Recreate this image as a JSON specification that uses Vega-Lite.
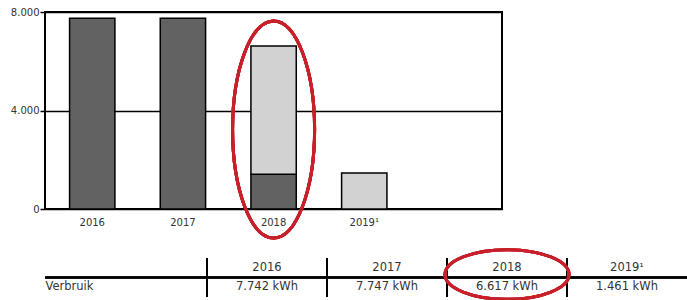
{
  "$schema": "https://vega.github.io/schema/vega-lite/v6.json",
  "padding": {"left": 9, "top": 6, "right": 0, "bottom": 0},
  "bounds": "flush",
  "spacing": 49,
  "background": "white",
  "config": {
    "font": "DejaVu Sans",
    "view": {"stroke": "black", "strokeWidth": 2},
    "axis": {"labelFont": "DejaVu Sans", "labelColor": "#333333", "titleFont": "DejaVu Sans"}
  },
  "vconcat": [
    {
      "width": 457,
      "height": 197,
      "data": {
        "values": [
          {"jaar": "2016", "deel": "a", "kWh": 7742},
          {"jaar": "2017", "deel": "a", "kWh": 7747},
          {"jaar": "2018", "deel": "a", "kWh": 1410},
          {"jaar": "2018", "deel": "b", "kWh": 5207},
          {"jaar": "2019¹", "deel": "b", "kWh": 1461}
        ]
      },
      "layer": [
        {
          "mark": {"type": "bar", "stroke": "black", "strokeWidth": 1.5},
          "encoding": {
            "x": {
              "field": "jaar", "type": "nominal", "sort": null,
              "scale": {"domain": ["2016", "2017", "2018", "2019¹"], "paddingInner": 0.5, "paddingOuter": 0.77, "align": 0.176, "round": false},
              "axis": {"title": null, "labelAngle": 0, "ticks": false, "tickSize": 0, "domain": false, "labelPadding": 8, "labelFontSize": 10, "grid": false}
            },
            "y": {
              "field": "kWh", "type": "quantitative", "aggregate": "sum", "stack": "zero",
              "scale": {"domain": [0, 8000], "nice": false},
              "axis": {"title": null, "values": [0, 4000, 8000], "labelExpr": "replace(format(datum.value, ','), ',', '.')", "labelFontSize": 10, "tickSize": 5, "tickColor": "black", "tickWidth": 1.5, "labelPadding": 1, "domain": false, "grid": true, "gridColor": "black", "gridWidth": 1.5, "gridOpacity": 1}
            },
            "color": {"field": "deel", "type": "nominal", "scale": {"domain": ["a", "b"], "range": ["#626262", "#d2d2d2"]}, "legend": null},
            "order": {"field": "deel", "sort": "ascending"}
          }
        },
        {
          "mark": {"type": "point", "shape": "M-0.378,0 C-0.378,-0.5523 -0.2088,-1 0,-1 C0.2088,-1 0.378,-0.5523 0.378,0 C0.378,0.5523 0.2088,1 0,1 C-0.2088,1 -0.378,0.5523 -0.378,0 Z", "size": 47089, "filled": false, "stroke": "#c8202a", "strokeWidth": 3, "opacity": 1, "clip": false},
          "encoding": {
            "x": {"datum": "2018", "type": "nominal"},
            "y": {"datum": 3230, "type": "quantitative"}
          }
        }
      ]
    },
    {
      "width": 642,
      "height": 39,
      "view": {"stroke": null},
      "data": {
        "values": [
          {"kolom": "2016", "kop": "2016", "verbruik": "7.742 kWh"},
          {"kolom": "2017", "kop": "2017", "verbruik": "7.747 kWh"},
          {"kolom": "2018", "kop": "2018", "verbruik": "6.617 kWh"},
          {"kolom": "2019¹", "kop": "2019¹", "verbruik": "1.461 kWh"}
        ]
      },
      "layer": [
        {
          "mark": {"type": "text", "fontSize": 11.5, "color": "#333333", "baseline": "middle"},
          "encoding": {
            "x": {
              "field": "kolom", "type": "nominal", "sort": null,
              "scale": {"domain": ["2016", "2017", "2018", "2019¹"], "paddingInner": 0, "paddingOuter": 0.675, "align": 1, "round": false},
              "axis": null
            },
            "y": {
              "datum": "kop", "type": "nominal",
              "scale": {"domain": ["kop", "Verbruik"], "paddingInner": 0, "paddingOuter": 0, "round": false},
              "axis": {"title": null, "labelExpr": "datum.value == 'Verbruik' ? 'Verbruik' : ''", "ticks": false, "tickSize": 0, "domain": false, "labelAlign": "left", "labelPadding": 0, "labelFontSize": 11.5, "labelColor": "#333333", "grid": false}
            },
            "text": {"field": "kop"}
          }
        },
        {
          "mark": {"type": "text", "fontSize": 11.5, "color": "#333333", "baseline": "middle"},
          "encoding": {
            "x": {"field": "kolom", "type": "nominal", "sort": null},
            "y": {"datum": "Verbruik", "type": "nominal"},
            "text": {"field": "verbruik"}
          }
        },
        {
          "mark": {"type": "rule", "color": "black", "strokeWidth": 2},
          "encoding": {
            "x": {"field": "kolom", "type": "nominal", "sort": null, "bandPosition": 0}
          }
        },
        {
          "mark": {"type": "rule", "color": "black", "strokeWidth": 2},
          "encoding": {
            "y": {"datum": "Verbruik", "type": "nominal", "bandPosition": 0}
          }
        },
        {
          "mark": {"type": "point", "shape": "M-1,0 C-1,-0.2209 -0.5523,-0.4 0,-0.4 C0.5523,-0.4 1,-0.2209 1,0 C1,0.2209 0.5523,0.4 0,0.4 C-0.5523,0.4 -1,0.2209 -1,0 Z", "size": 15376, "filled": false, "stroke": "#c8202a", "strokeWidth": 3, "opacity": 1, "clip": false},
          "encoding": {
            "x": {"datum": "2018", "type": "nominal"},
            "y": {"datum": "Verbruik", "type": "nominal", "bandPosition": 0},
            "yOffset": {"value": -3}
          }
        }
      ]
    }
  ]
}
